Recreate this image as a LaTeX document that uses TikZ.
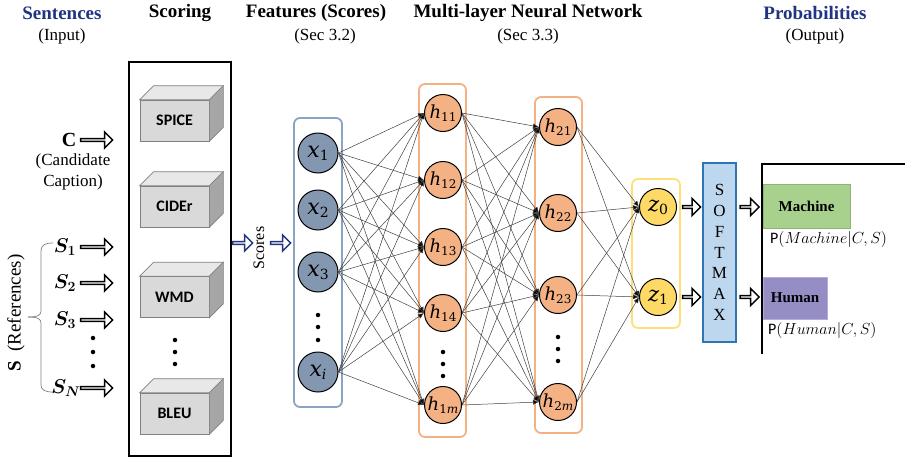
\RequirePackage{fix-cm}
\documentclass[tikz,border=0pt]{standalone}
\usepackage{fontspec}
\setmainfont{Liberation Serif}
\newfontfamily\calib{Carlito}
\newfontfamily\cambr{DejaVu Serif}
\usepackage{bm}
\usetikzlibrary{shapes.arrows,arrows.meta,calc}
\definecolor{titleblue}{RGB}{32,52,130}
\definecolor{xfill}{RGB}{132,151,176}
\definecolor{xbox}{RGB}{140,163,196}
\definecolor{hfill}{RGB}{244,177,131}
\definecolor{hbox}{RGB}{244,177,131}
\definecolor{zfill}{RGB}{255,217,102}
\definecolor{zbox}{RGB}{255,222,120}
\definecolor{smfill}{RGB}{189,215,238}
\definecolor{smdraw}{RGB}{46,117,182}
\definecolor{mgreen}{RGB}{169,209,142}
\definecolor{hpurple}{RGB}{148,142,196}
\definecolor{hpurpled}{RGB}{185,170,218}
\definecolor{cubefront}{RGB}{217,217,217}
\definecolor{cubetop}{RGB}{232,232,232}
\definecolor{cubeside}{RGB}{166,166,166}
\definecolor{cubeline}{RGB}{128,128,128}
\newcommand\mycube[3]{%
  \node[cubeface] (#1) at (174.5,#2) {#3};
  \filldraw[fill=cubetop,draw=cubeline,line width=0.6pt] (#1.north west) -- ++(14,-14) -- ($(#1.north east)+(14,-14)$) -- (#1.north east) -- cycle;
  \filldraw[fill=cubeside,draw=cubeline,line width=0.6pt] (#1.north east) -- ++(14,-14) -- ($(#1.south east)+(14,-14)$) -- (#1.south east) -- cycle;
}
% neuron label: #1 main size, #2 sub size, #3 letter, #4 subscript
\newcommand\nlab[4]{{\fontsize{#1}{#1}\selectfont\cambr\itshape #3}\raisebox{-0.3em}{\fontsize{#2}{#2}\selectfont\cambr #4}}
\begin{document}
\begin{tikzpicture}[x=1pt,y=-1pt,
  title/.style={font=\fontsize{19}{21}\selectfont\bfseries},
  subt/.style={font=\fontsize{17}{19}\selectfont},
  neuron/.style={circle,draw=black,line width=1pt,inner sep=0pt},
  xn/.style={neuron,fill=xfill,minimum size=40pt},
  hn/.style={neuron,fill=hfill,minimum size=37pt},
  zn/.style={neuron,fill=zfill,minimum size=37pt},
  layerbox/.style={rounded corners=6pt,line width=1.8pt,inner sep=0pt},
  conn/.style={draw=black!75,line width=0.5pt,-{Latex[length=6pt,width=5pt,fill=black]}},
  harrow/.style={single arrow,draw=black,line width=1.5pt,fill=white,minimum width=16pt,single arrow head extend=4pt,single arrow head indent=0pt,inner sep=0pt},
  cubeface/.style={draw=cubeline,fill=cubefront,line width=0.6pt,minimum width=69pt,minimum height=41pt,inner sep=0pt,font=\calib\fontsize{16}{16}\selectfont\bfseries},
  dotty/.style={circle,fill=black,inner sep=0pt,minimum size=4.5pt},
]
\useasboundingbox (0,0) rectangle (905,458);

% titles
\node[title,text=titleblue] (tSent) at (62,13) {Sentences};
\node[subt] (tIn) at (62,36) {(Input)};
\node[title] (tScor) at (180,13) {Scoring};
\node[title] (tFeat) at (316,13) {Features (Scores)};
\node[subt] (tSec2) at (325,36) {(Sec 3.2)};
\node[title] (tMLNN) at (528,13) {Multi-layer Neural Network};
\node[subt] (tSec3) at (528,36) {(Sec 3.3)};
\node[title,text=titleblue] (tProb) at (815,13) {Probabilities};
\node[subt] (tOut) at (815,36) {(Output)};

% inputs
\node[font=\fontsize{20}{20}\selectfont\bfseries] (C) at (69,140) {C};
\node[harrow,minimum height=32pt] (aC) at (96,140) {};
\node[subt,align=center,font=\fontsize{17}{21}\selectfont] (cand) at (73,171.5) {(Candidate\\Caption)};
\node[font=\fontsize{20}{20}\selectfont] (s1) at (65,247) {$\bm{S}_{\bm{1}}$};
\node[font=\fontsize{20}{20}\selectfont] (s2) at (65,283) {$\bm{S}_{\bm{2}}$};
\node[font=\fontsize{20}{20}\selectfont] (s3) at (65,320) {$\bm{S}_{\bm{3}}$};
\node[font=\fontsize{20}{20}\selectfont] (sN) at (66,388) {$\bm{S}_{\bm{N}}$};
\node[harrow,minimum height=32pt] (a1) at (96,247) {};
\node[harrow,minimum height=32pt] (a2) at (96,283) {};
\node[harrow,minimum height=32pt] (a3) at (96,320) {};
\node[harrow,minimum height=32pt] (aN) at (96,388) {};
\node[dotty] (sd1) at (93,338) {};
\node[dotty] (sd2) at (93,352) {};
\node[dotty] (sd3) at (93,366) {};
\draw[gray,line width=0.7pt] (53,243) .. controls (45,243) and (41,245) .. (41,251) -- (41,311) .. controls (41,315) and (38,317) .. (28,317);
\draw[gray,line width=0.7pt] (28,317) .. controls (38,317) and (41,319) .. (41,323) -- (41,385) .. controls (41,390) and (45,392) .. (53,392);
\node[rotate=90,font=\fontsize{19}{19}\selectfont] (Sref) at (16,313) {\textbf{S}\ \ (References)};

% scoring
\node[draw=black,line width=1.5pt,minimum width=102pt,minimum height=394pt,inner sep=0pt] (scoring) at (180,259) {};
\mycube{spice}{120.5}{SPICE}
\mycube{cider}{206.5}{CIDEr}
\mycube{wmd}{297}{WMD}
\mycube{bleu}{413.5}{BLEU}
\node[dotty] (cd1) at (175,340) {};
\node[dotty] (cd2) at (175,352) {};
\node[dotty] (cd3) at (175,364) {};

% scores arrows
\node[harrow,draw=titleblue,minimum height=20pt] (sa1) at (242,243) {};
\node[rotate=90,font=\fontsize{16}{16}\selectfont] (scores) at (259,248) {Scores};
\node[harrow,draw=titleblue,minimum height=20pt] (sa2) at (280,243) {};

% layer boxes
\node[layerbox,draw=xbox,minimum width=48pt,minimum height=289pt] (xbx) at (318,262.5) {};
\node[layerbox,draw=hbox,minimum width=47pt,minimum height=353pt] (h1bx) at (442.5,260.5) {};
\node[layerbox,draw=hbox,minimum width=47pt,minimum height=336pt] (h2bx) at (558.5,265) {};
\node[layerbox,draw=zbox,minimum width=48pt,minimum height=149pt] (zbx) at (656,253.5) {};

% neurons
\node[xn] (x1) at (318,153) {\nlab{22}{14}{x}{1}};
\node[xn] (x2) at (318,210) {\nlab{22}{14}{x}{2}};
\node[xn] (x3) at (318,272) {\nlab{22}{14}{x}{3}};
\node[xn] (xi) at (318,372) {\nlab{22}{14}{x}{\itshape i}};
\node[dotty] (xd1) at (318,315) {};
\node[dotty] (xd2) at (318,327) {};
\node[dotty] (xd3) at (318,340) {};

\node[hn] (h11) at (443,113) {\nlab{18}{12}{h}{11}};
\node[hn] (h12) at (443,180) {\nlab{18}{12}{h}{12}};
\node[hn] (h13) at (443,247) {\nlab{18}{12}{h}{13}};
\node[hn] (h14) at (443,313) {\nlab{18}{12}{h}{14}};
\node[hn] (h1m) at (443,405) {\nlab{18}{12}{h}{1\itshape m}};
\node[dotty] (hd1) at (443,352) {};
\node[dotty] (hd2) at (443,364) {};
\node[dotty] (hd3) at (443,376) {};

\node[hn] (h21) at (558,127) {\nlab{18}{12}{h}{21}};
\node[hn] (h22) at (558,213) {\nlab{18}{12}{h}{22}};
\node[hn] (h23) at (558,295) {\nlab{18}{12}{h}{23}};
\node[hn] (h2m) at (558,402) {\nlab{18}{12}{h}{2\itshape m}};
\node[dotty] (gd1) at (558,337) {};
\node[dotty] (gd2) at (558,349) {};
\node[dotty] (gd3) at (558,361) {};

\node[zn] (z0) at (658,207) {\nlab{21}{14}{z}{0}};
\node[zn] (z1) at (658,297) {\nlab{21}{14}{z}{1}};

% connections
\foreach \s in {x1,x2,x3,xi}
  \foreach \t in {h11,h12,h13,h14,h1m}
    \draw[conn] (\s.east) -- (\t.west);
\foreach \s in {h11,h12,h13,h14,h1m}
  \foreach \t in {h21,h22,h23,h2m}
    \draw[conn] (\s.east) -- (\t.west);
\foreach \s in {h21,h22,h23,h2m}
  \foreach \t in {z0,z1}
    \draw[conn] (\s.east) -- (\t.west);

% softmax
\node[draw=smdraw,fill=smfill,line width=1.2pt,minimum width=33pt,minimum height=179pt,inner sep=0pt,align=center,font=\fontsize{17}{20.8}\selectfont] (smax) at (719.5,252.5) {S\\O\\F\\T\\M\\A\\X};
\node[harrow,minimum height=18pt,minimum width=17pt] (za0) at (691,207) {};
\node[harrow,minimum height=18pt,minimum width=17pt] (za1) at (691,297) {};
\node[harrow,minimum height=19pt,minimum width=17pt] (oa0) at (749,207) {};
\node[harrow,minimum height=19pt,minimum width=17pt] (oa1) at (749,297) {};

% output
\draw[line width=2.2pt] (905,164) -- (762,164) -- (762,354);
\node[fill=mgreen,draw=mgreen!85!black,line width=0.4pt,minimum width=87pt,minimum height=44pt,inner sep=0pt,font=\fontsize{15}{15}\selectfont\bfseries] (mach) at (806.5,206) {Machine};
\node[fill=hpurple,draw=hpurpled,line width=0.8pt,minimum width=64pt,minimum height=42pt,inner sep=0pt,font=\fontsize{15}{15}\selectfont\bfseries] (hum) at (795,298) {Human};
\node[anchor=west,inner sep=0pt,font=\fontsize{16}{16}\selectfont] (pm) at (770,239) {{\calib P}$(Machine|C,S)$};
\node[anchor=west,inner sep=0pt,font=\fontsize{16}{16}\selectfont] (ph) at (768,330) {{\calib P}$(Human|C,S)$};
\end{tikzpicture}
\end{document}
